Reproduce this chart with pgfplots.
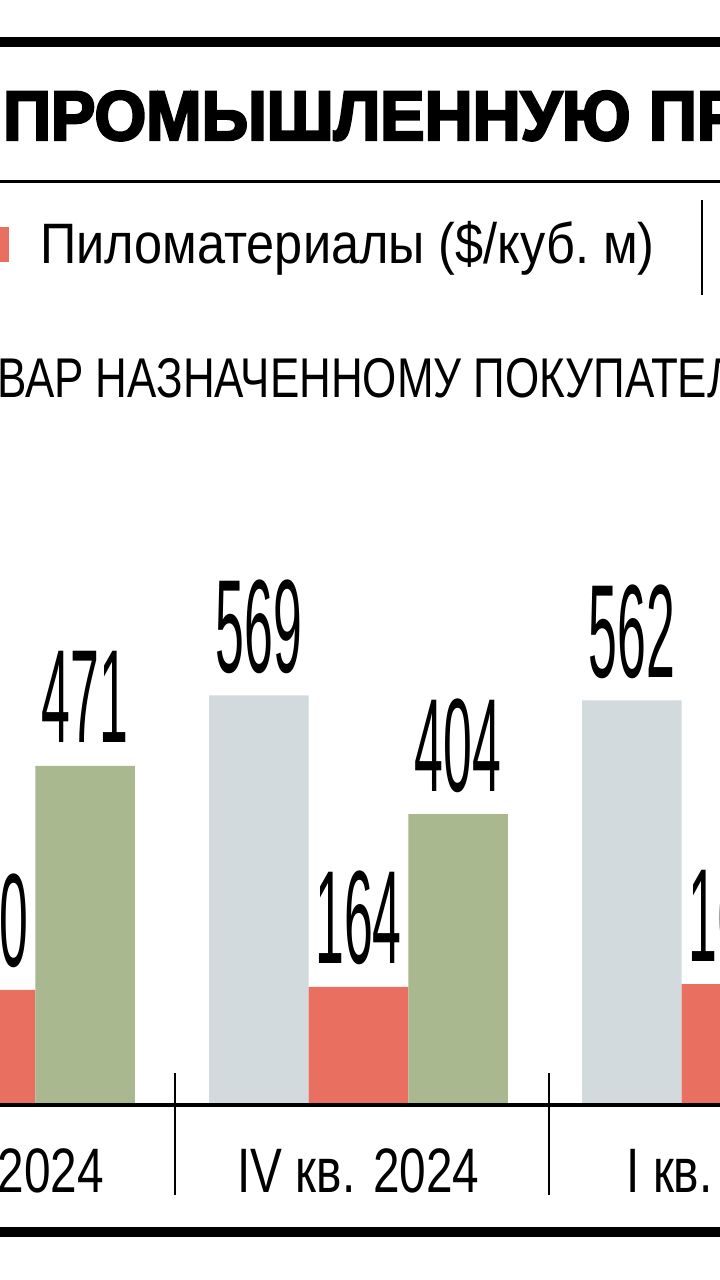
\documentclass[border=0pt]{standalone}
\usepackage{fontspec}
\usepackage{pgfplots}
\pgfplotsset{compat=1.18}
\setmainfont{Liberation Sans}
\newfontfamily\titlefont{Liberation Sans}[UprightFont={* Bold},FakeStretch=0.95,FakeBold=3.5]
\newfontfamily\condfont{Liberation Sans}[FakeStretch=0.785]
\newfontfamily\legfont{Liberation Sans}[FakeStretch=0.885]
\newfontfamily\catfont{Liberation Sans}[FakeStretch=0.76]
\newfontfamily\numfont{Liberation Sans}[FakeStretch=0.39]

\definecolor{cgrey}{HTML}{D3DADD}
\definecolor{cred}{HTML}{E96F60}
\definecolor{cgreen}{HTML}{A9B88E}

\begin{document}
\begin{tikzpicture}[x=1pt,y=1pt]
\useasboundingbox (0,0) rectangle (720,1280);
\clip (0,0) rectangle (720,1280);
\fill[white] (0,0) rectangle (720,1280);

% rules and header
\draw[line width=10pt] (-10,1238) -- (730,1238);
\node[anchor=base west, inner sep=0pt] at (3,1140)
  {\titlefont\fontsize{70}{76}\selectfont ПРОМЫШЛЕННУЮ ПРОДУКЦИЮ};
\draw[line width=3pt] (-10,1098.5) -- (730,1098.5);

% legend
\fill[cred] (-25,1018) rectangle (9,1053);
\node[anchor=base west, inner sep=0pt] at (40,1016)
  {\legfont\fontsize{57}{60}\selectfont Пиломатериалы (\$/куб.~м)};
\draw[line width=2pt] (701.5,985) -- (701.5,1080);

% subtitle
\node[anchor=base west, inner sep=0pt] at (-3,882)
  {\condfont\fontsize{56}{60}\selectfont\llap{ТО}ВАР НАЗНАЧЕННОМУ ПОКУПАТЕЛЮ};

\begin{axis}[
  at={(-238.3pt,175pt)}, anchor=south west,
  x=373pt, y=0.72pt,
  xmin=-0.6, xmax=2.6, ymin=0, ymax=800,
  axis x line*=bottom, axis y line=none,
  x axis line style={-},
  ybar=0pt, bar width=0.2668,
  xtick={0,1,2},
  xticklabels={III кв. 2024, IV кв. 2024, I кв. 2025},
  major tick length=0pt,
  xticklabel style={anchor=base, inner sep=0pt, yshift=-87pt,
    font=\catfont\fontsize{62.8}{64}\selectfont},
  ytick=\empty,
  nodes near coords,
  nodes near coords style={anchor=base, inner sep=0pt, yshift=23pt,
    font=\numfont\fontsize{132.7}{135}\selectfont},
  /pgf/number format/assume math mode=true,
  clip=false,
]
\addplot[fill=cgrey, draw=none] coordinates {(1,569) (2,562)};
\addplot[fill=cred, draw=none] coordinates {(0,160) (1,164) (2,168)};
\addplot[fill=cgreen, draw=none] coordinates {(0,471) (1,404)};
\draw[line width=3.5pt] (axis cs:-0.6,0) -- (axis cs:2.6,0);
\draw[line width=2pt] (axis cs:0.507,0) ++(0pt,32pt) -- ++(0pt,-122pt);
\draw[line width=2pt] (axis cs:1.510,0) ++(0pt,32pt) -- ++(0pt,-122pt);
\end{axis}

% bottom rule
\draw[line width=10pt] (-10,48) -- (730,48);
\end{tikzpicture}
\end{document}
